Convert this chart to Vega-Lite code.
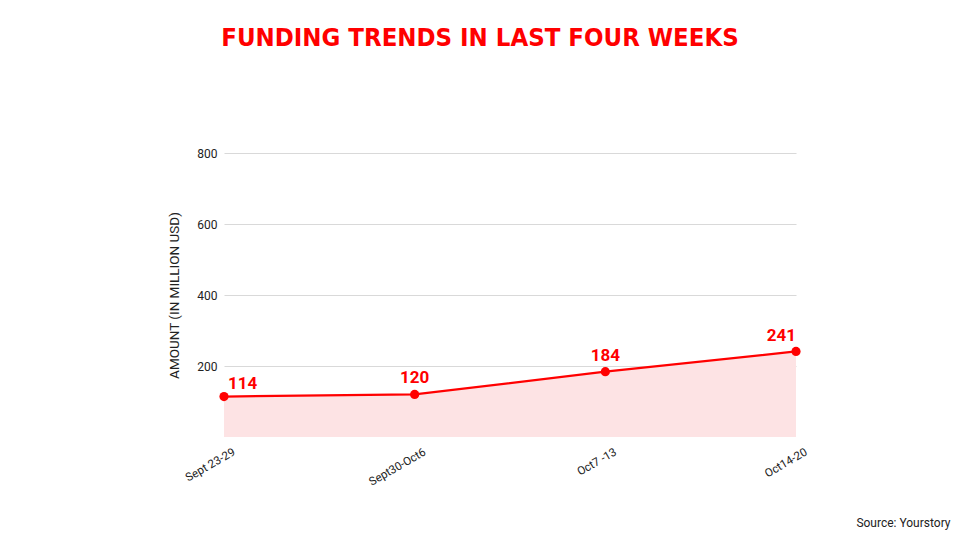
{
  "$schema": "https://vega.github.io/schema/vega-lite/v6.json",
  "autosize": "none",
  "width": 572,
  "height": 284,
  "padding": {"left": 224, "top": 153, "right": 164, "bottom": 103},
  "background": "white",
  "title": {
    "text": "FUNDING TRENDS IN LAST FOUR WEEKS",
    "font": "DejaVu Sans Condensed",
    "fontSize": 25.5,
    "fontWeight": "bold",
    "color": "#ff0000",
    "anchor": "middle",
    "dx": -30,
    "baseline": "alphabetic",
    "offset": 76
  },
  "data": {
    "values": [
      {"week": "Sept 23-29", "amount": 114, "pos": "first"},
      {"week": "Sept30-Oct6", "amount": 120, "pos": "mid"},
      {"week": "Oct7 -13", "amount": 184, "pos": "mid"},
      {"week": "Oct14-20", "amount": 241, "pos": "last"}
    ]
  },
  "encoding": {
    "x": {
      "field": "week",
      "type": "nominal",
      "sort": null,
      "scale": {"type": "point", "padding": 0},
      "axis": {
        "domain": false,
        "ticks": false,
        "grid": false,
        "labelAngle": -30,
        "labelAlign": "right",
        "labelBaseline": "top",
        "labelFont": "Roboto",
        "labelFontSize": 11.5,
        "labelColor": "#222222",
        "labelPadding": 9,
        "labelOffset": 7,
        "title": "Source: Yourstory",
        "titleFont": "Roboto",
        "titleFontSize": 12,
        "titleFontWeight": "normal",
        "titleColor": "#222222",
        "titleAnchor": null,
        "titleAlign": "right",
        "titleBaseline": "alphabetic",
        "titleX": 726,
        "titleY": 89
      }
    },
    "y": {
      "field": "amount",
      "type": "quantitative",
      "scale": {"domain": [0, 800], "nice": false},
      "axis": {
        "values": [200, 400, 600, 800],
        "domain": false,
        "ticks": false,
        "grid": true,
        "gridColor": "#d9d9d9",
        "gridWidth": 1,
        "labelFont": "Roboto",
        "labelFontSize": 12,
        "labelColor": "#222222",
        "labelPadding": 7,
        "title": "AMOUNT (IN MILLION USD)",
        "titleFont": "Roboto",
        "titleFontSize": 13.5,
        "titleFontWeight": "normal",
        "titleColor": "#222222",
        "titlePadding": 15
      }
    }
  },
  "layer": [
    {"mark": {"type": "area", "color": "#fde3e4", "opacity": 1}},
    {"mark": {"type": "line", "color": "#ff0000", "strokeWidth": 2.2}},
    {"mark": {"type": "point", "filled": true, "color": "#ff0000", "size": 85, "opacity": 1}},
    {
      "transform": [{"filter": "datum.pos === 'first'"}],
      "mark": {"type": "text", "align": "left", "baseline": "alphabetic", "dx": 4, "dy": -8, "font": "Roboto", "fontSize": 17, "fontWeight": "bold", "color": "#ff0000"},
      "encoding": {"text": {"field": "amount", "type": "quantitative"}}
    },
    {
      "transform": [{"filter": "datum.pos === 'mid'"}],
      "mark": {"type": "text", "align": "center", "baseline": "alphabetic", "dy": -11, "font": "Roboto", "fontSize": 17, "fontWeight": "bold", "color": "#ff0000"},
      "encoding": {"text": {"field": "amount", "type": "quantitative"}}
    },
    {
      "transform": [{"filter": "datum.pos === 'last'"}],
      "mark": {"type": "text", "align": "right", "baseline": "alphabetic", "dx": 0, "dy": -10, "font": "Roboto", "fontSize": 17, "fontWeight": "bold", "color": "#ff0000"},
      "encoding": {"text": {"field": "amount", "type": "quantitative"}}
    }
  ],
  "config": {"view": {"stroke": null}}
}
